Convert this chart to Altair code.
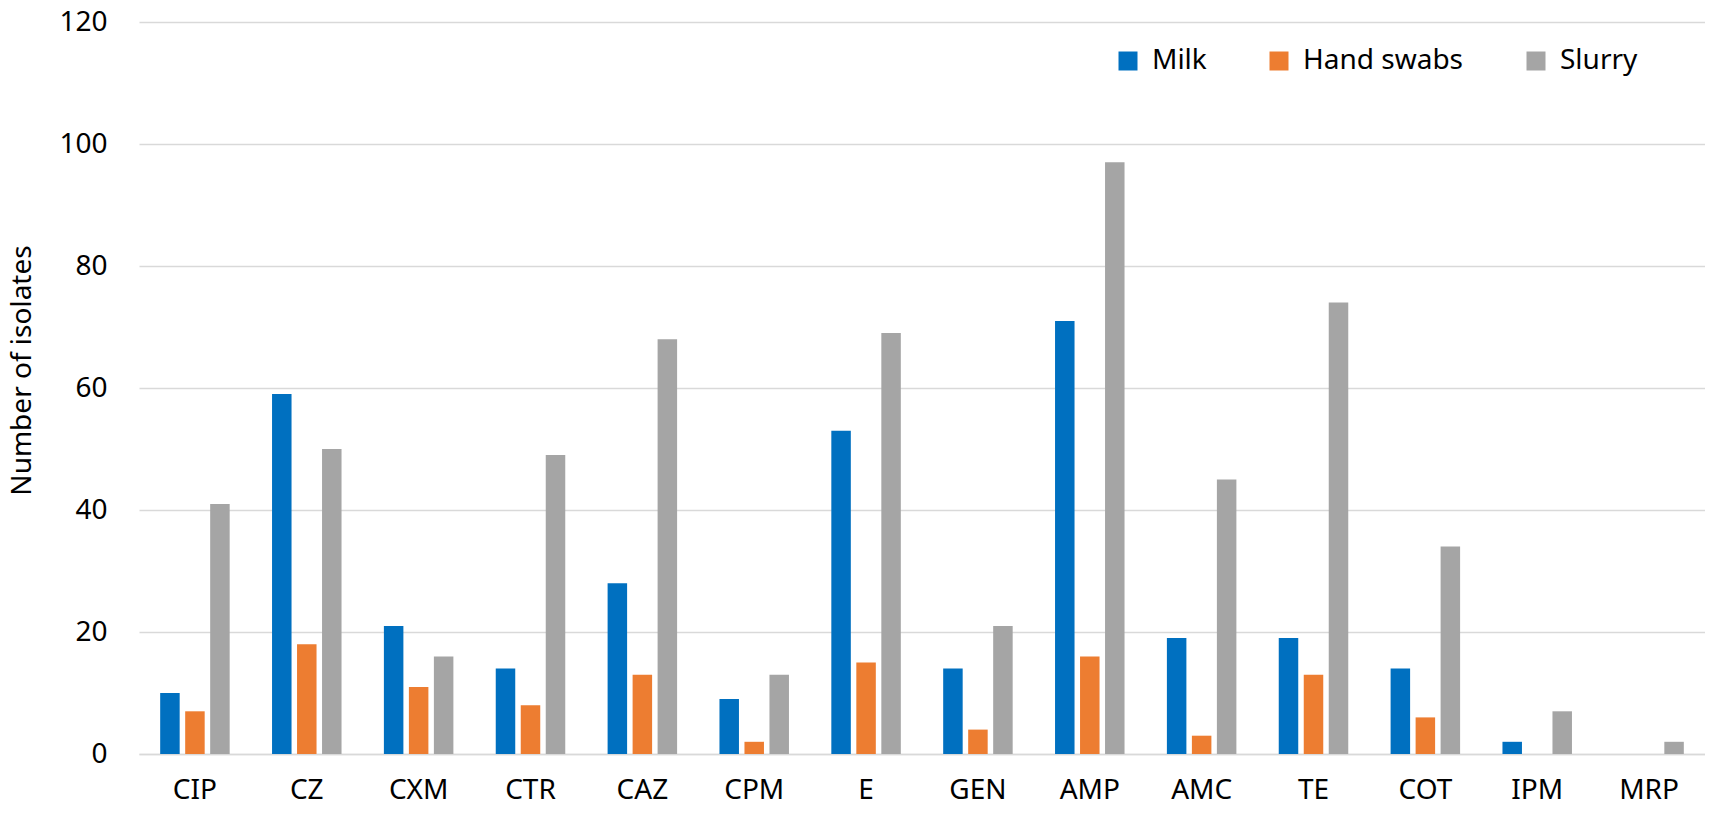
import altair as alt
import pandas as pd

categories = ["CIP", "CZ", "CXM", "CTR", "CAZ", "CPM", "E", "GEN", "AMP", "AMC", "TE", "COT", "IPM", "MRP"]
series = ["Milk", "Hand swabs", "Slurry"]
milk = [10, 59, 21, 14, 28, 9, 53, 14, 71, 19, 19, 14, 2, 0]
hand_swabs = [7, 18, 11, 8, 13, 2, 15, 4, 16, 3, 13, 6, 0, 0]
slurry = [41, 50, 16, 49, 68, 13, 69, 21, 97, 45, 74, 34, 7, 2]
colors = ["#0070C0", "#ED7D31", "#A5A5A5"]
y_ticks = [0, 20, 40, 60, 80, 100, 120]

rows = []
for name, vals in zip(series, [milk, hand_swabs, slurry]):
    for c, v in zip(categories, vals):
        rows.append({"category": c, "series": name, "value": v})
df = pd.DataFrame(rows)

FONT = "Noto Sans"

chart = alt.Chart(df).mark_bar().encode(
    x=alt.X("category:N", sort=categories, title=None,
            scale=alt.Scale(paddingInner=0.3295, paddingOuter=0.16475),
            axis=alt.Axis(labelAngle=0, ticks=False, domain=True, domainColor="#D9D9D9",
                          domainWidth=1.5, labelFontSize=28, labelFont=FONT, labelColor="#000000",
                          labelBaseline="middle", labelPadding=36, grid=False)),
    xOffset=alt.XOffset("series:N", sort=series,
                        scale=alt.Scale(paddingInner=0.22, paddingOuter=0.11)),
    y=alt.Y("value:Q", title="Number of isolates",
            scale=alt.Scale(domain=[0, 120], nice=False),
            axis=alt.Axis(values=y_ticks, ticks=False, domain=False, grid=True,
                          gridColor="#D9D9D9", gridWidth=1.5,
                          labelFontSize=28, labelFont=FONT, labelColor="#000000",
                          labelPadding=32, titleFontSize=28, titleFont=FONT,
                          titleFontWeight="normal", titleColor="#000000",
                          titleX=-117, titleY=348, titleAngle=-90,
                          titleAlign="center", titleBaseline="middle")),
    color=alt.Color("series:N", sort=series,
                    scale=alt.Scale(domain=series, range=colors),
                    legend=alt.Legend(title=None, orient="none", direction="horizontal",
                                      legendX=975, legendY=25, symbolType="square",
                                      symbolSize=361, symbolStrokeWidth=0,
                                      labelFontSize=28, labelFont=FONT, labelColor="#000000",
                                      labelLimit=400, labelOffset=10, columnPadding=58)),
).properties(
    width=1566, height=732,
    autosize=alt.AutoSizeParams(type="none"),
    padding={"left": 131, "top": 14, "right": 0, "bottom": 52},
).configure_view(stroke=None)

chart.save("out.html", embed_options={"renderer": "svg", "actions": False})
